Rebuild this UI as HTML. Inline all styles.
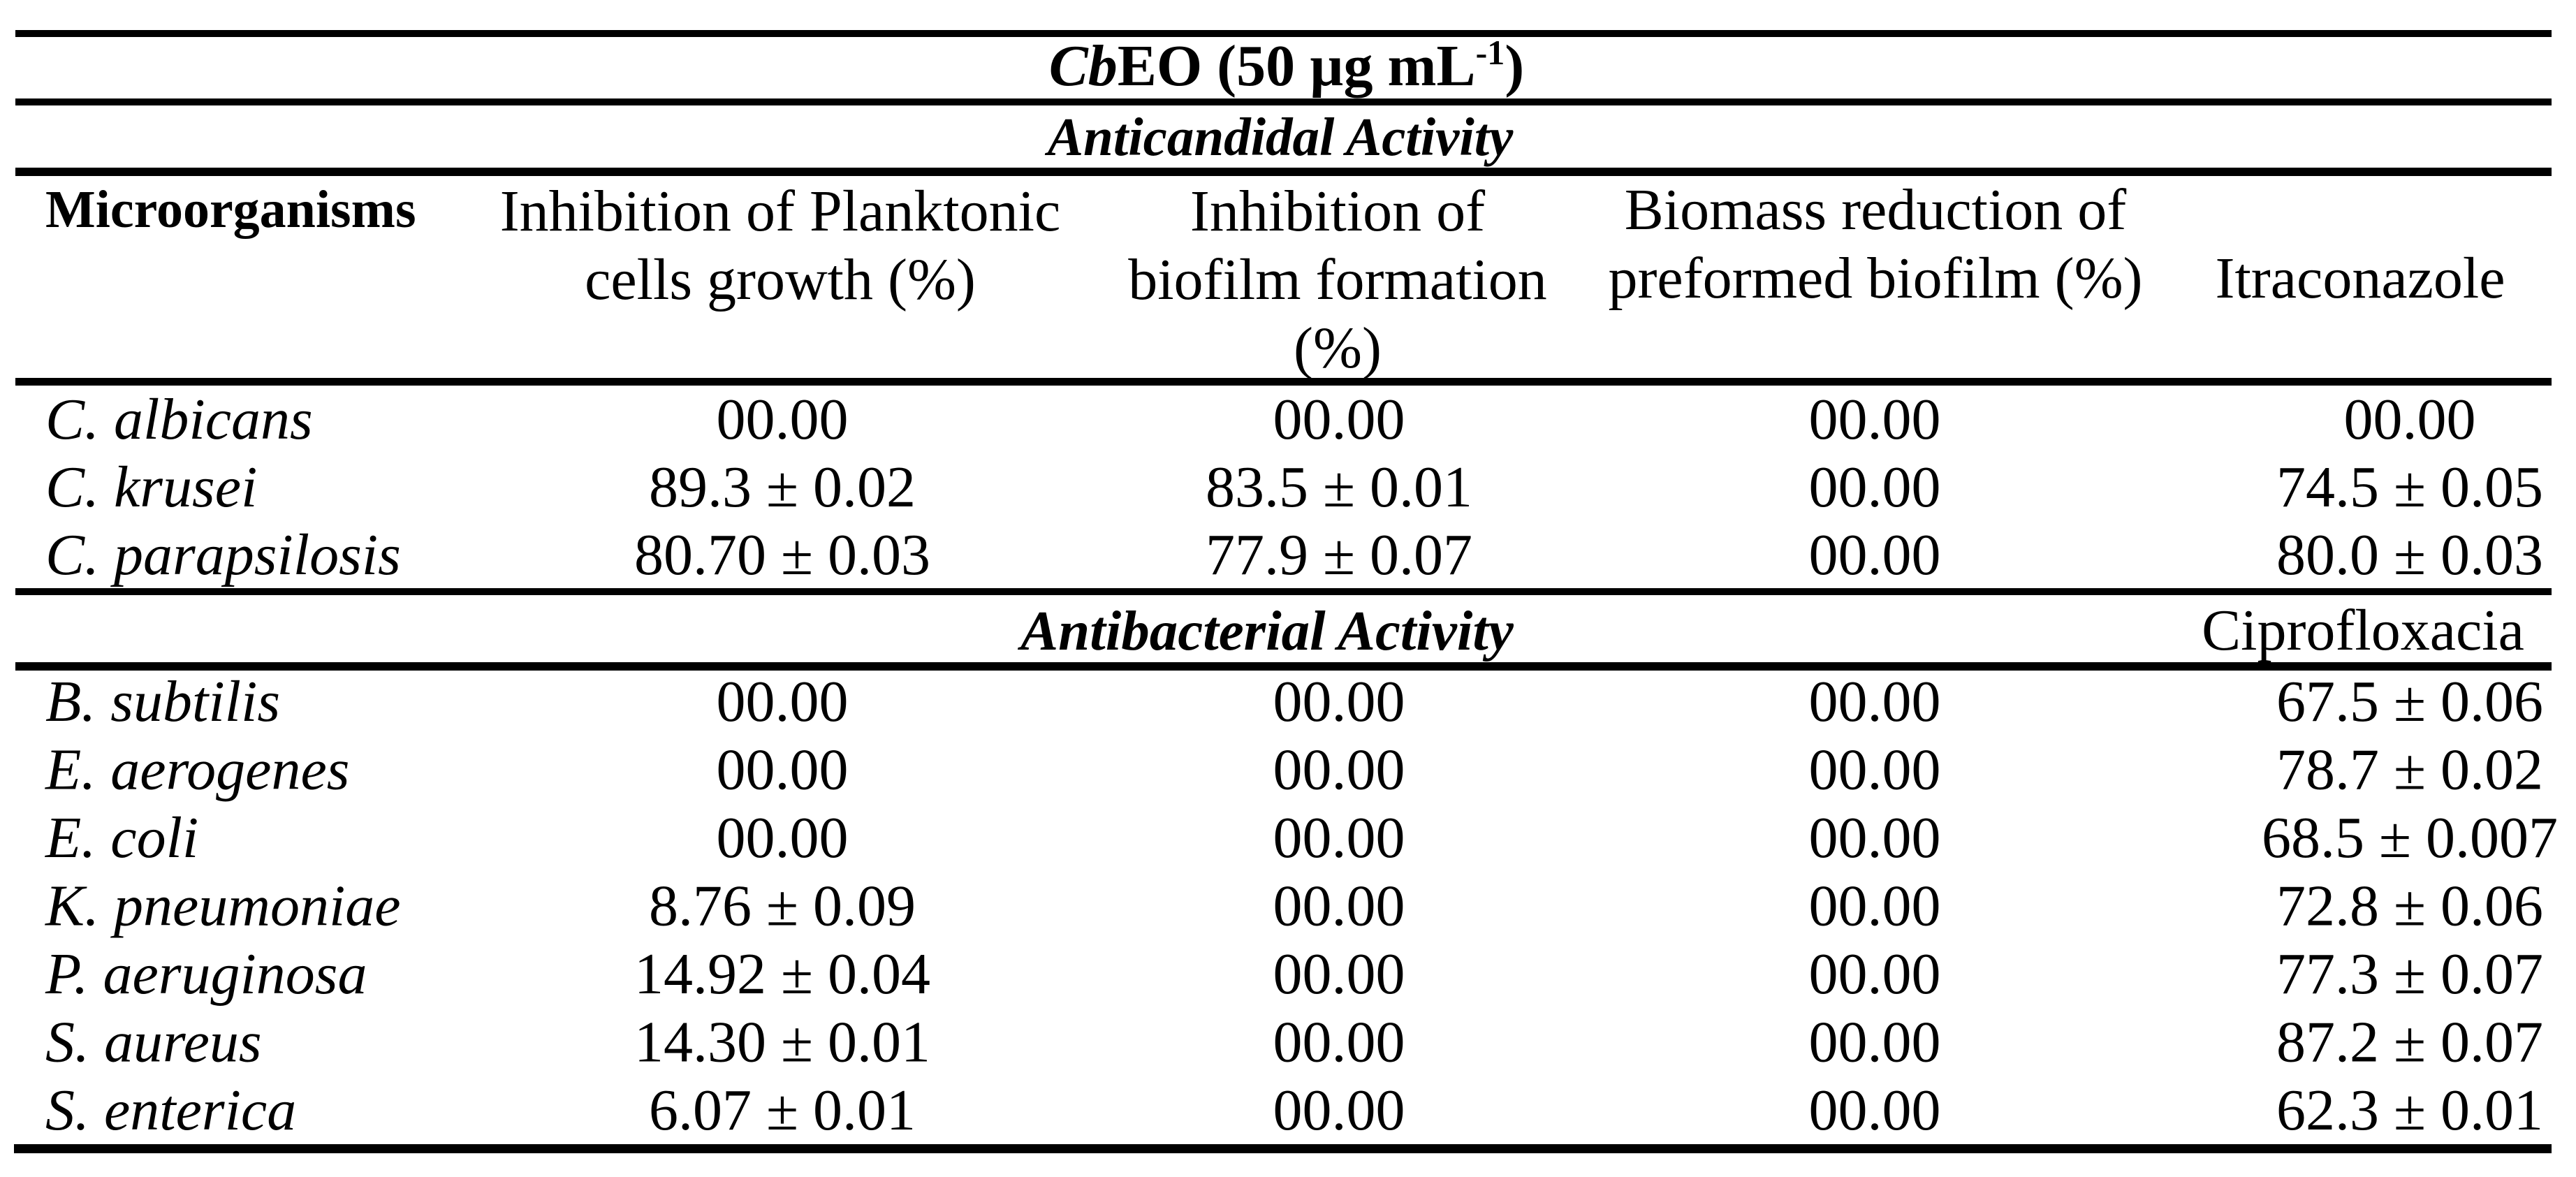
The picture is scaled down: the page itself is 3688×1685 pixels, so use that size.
<!DOCTYPE html>
<html><head><meta charset="utf-8"><style>
html,body{margin:0;padding:0;background:#fff;}
svg{display:block;}
text{font-family:"Liberation Serif","Times New Roman",serif;fill:#000;}
</style></head><body>
<svg width="3688" height="1685" viewBox="0 0 3688 1685" xmlns="http://www.w3.org/2000/svg">
<g>
<rect x="22" y="43" width="3631" height="10"/>
<rect x="22" y="141" width="3631" height="10"/>
<rect x="22" y="240" width="3631" height="12"/>
<rect x="22" y="541" width="3631" height="11"/>
<rect x="22" y="842" width="3631" height="10"/>
<rect x="22" y="948" width="3631" height="12"/>
<rect x="20" y="1638" width="3633" height="13"/>
</g>
<text x="1842" y="122" text-anchor="middle" font-size="84" font-weight="bold"><tspan font-style="italic">Cb</tspan>EO (50 µg mL<tspan font-size="50" dy="-30">-1</tspan><tspan dy="30">)</tspan></text>
<text x="1833" y="222" text-anchor="middle" font-size="77" font-weight="bold" font-style="italic">Anticandidal Activity</text>
<g font-size="84">
<text x="65" y="325" font-size="76" font-weight="bold">Microorganisms</text>
<text text-anchor="middle"><tspan x="1117" y="330">Inhibition of Planktonic</tspan><tspan x="1117" y="428">cells growth (%)</tspan></text>
<text text-anchor="middle"><tspan x="1915" y="330">Inhibition of</tspan><tspan x="1915" y="428">biofilm formation</tspan><tspan x="1915" y="526">(%)</tspan></text>
<text text-anchor="middle"><tspan x="2685" y="328">Biomass reduction of</tspan><tspan x="2685" y="426">preformed biofilm (%)</tspan></text>
<text x="3379" y="426" text-anchor="middle">Itraconazole</text>
</g>
<text x="1814" y="930" text-anchor="middle" font-size="81" font-weight="bold" font-style="italic">Antibacterial Activity</text>
<text x="3383" y="930" text-anchor="middle" font-size="84">Ciprofloxacia</text>
<g id="body" font-size="84"></g>
</svg>
<script>
const organisms = ["C. albicans","C. krusei","C. parapsilosis","B. subtilis","E. aerogenes","E. coli","K. pneumoniae","P. aeruginosa","S. aureus","S. enterica"];
const planktonic = ["00.00","89.3 ± 0.02","80.70 ± 0.03","00.00","00.00","00.00","8.76 ± 0.09","14.92 ± 0.04","14.30 ± 0.01","6.07 ± 0.01"];
const biofilmFormation = ["00.00","83.5 ± 0.01","77.9 ± 0.07","00.00","00.00","00.00","00.00","00.00","00.00","00.00"];
const biomassReduction = ["00.00","00.00","00.00","00.00","00.00","00.00","00.00","00.00","00.00","00.00"];
const controlDrug = ["00.00","74.5 ± 0.05","80.0 ± 0.03","67.5 ± 0.06","78.7 ± 0.02","68.5 ± 0.007","72.8 ± 0.06","77.3 ± 0.07","87.2 ± 0.07","62.3 ± 0.01"];
const NS = "http://www.w3.org/2000/svg";
const body = document.getElementById("body");
function rowY(i){ return i < 3 ? 628 + i*97 : 1032 + (i-3)*97.5; }
const cols = [planktonic, biofilmFormation, biomassReduction, controlDrug];
const colX = [1120, 1917, 2684, 3450];
const colNames = ["planktonic","biofilm-formation","biomass-reduction","control-drug"];
function mk(txt, x, y, anchor, italic){
  const t = document.createElementNS(NS, "text");
  t.setAttribute("x", x); t.setAttribute("y", y);
  t.setAttribute("text-anchor", anchor);
  if (italic) t.setAttribute("font-style", "italic");
  t.textContent = txt;
  body.appendChild(t);
  return t;
}
organisms.forEach((o, i) => {
  const y = rowY(i);
  const l = mk(o, 65, y, "start", true);
  
  
  cols.forEach((c, j) => {
    const t = mk(c[i], colX[j], y, "middle", false);
    
    
  });
});
</script>
</body></html>
